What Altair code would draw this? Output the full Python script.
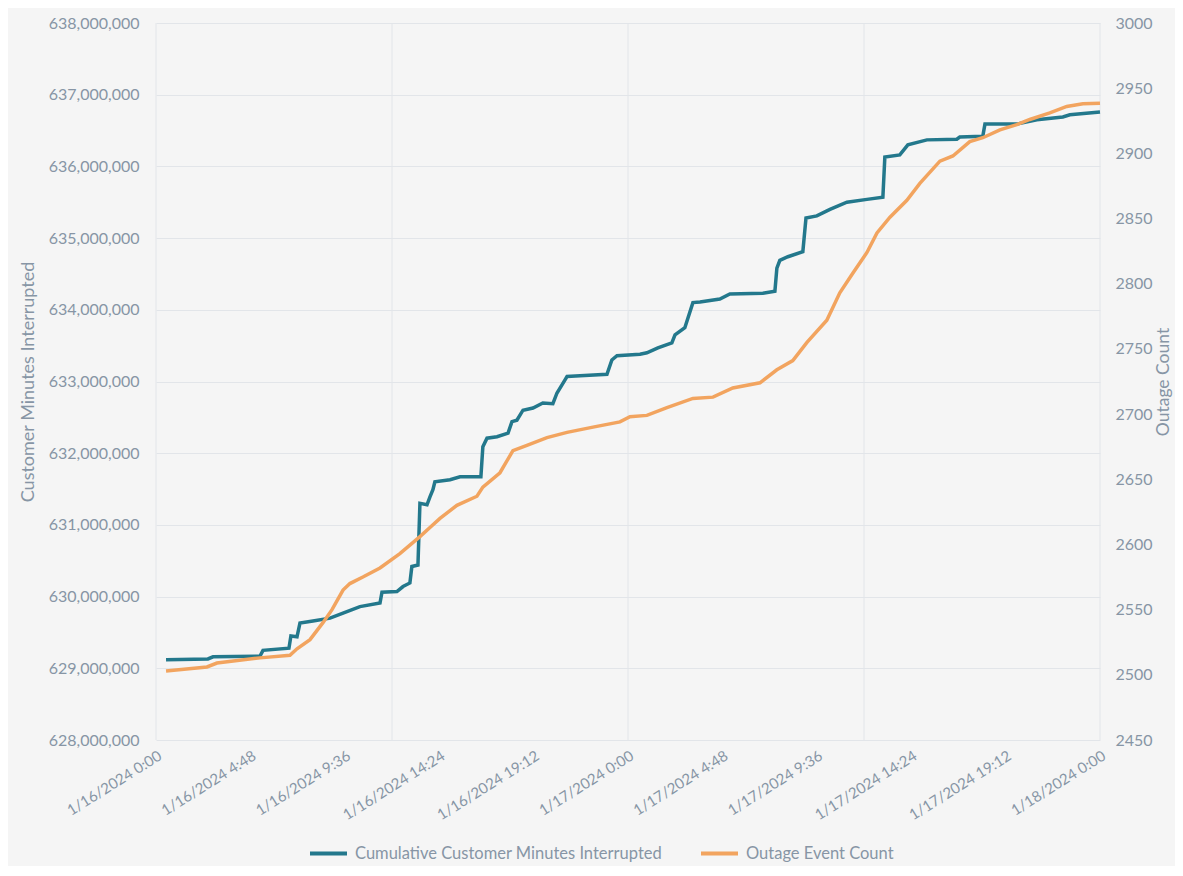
import altair as alt
import pandas as pd

# ---- data (hours since 1/16/2024 0:00) ----
cmi_hours = [0.51, 2.64, 2.90, 5.29, 5.44, 6.76, 6.86, 7.17, 7.32, 7.98, 8.85, 9.51,
             10.37, 11.39, 11.49, 12.25, 12.56, 12.91, 13.01, 13.32, 13.42, 13.78,
             13.93, 14.08, 14.18, 14.95, 15.46, 16.52, 16.62, 16.83, 17.34, 17.90,
             18.10, 18.35, 18.66, 19.17, 19.67, 20.18, 20.39, 20.79, 20.90, 21.56,
             22.93, 23.18, 23.44, 24.61, 24.96, 25.52, 26.23, 26.39, 26.89, 27.30,
             27.66, 28.67, 29.18, 30.86, 31.47, 31.57, 31.72, 32.13, 32.89, 33.05,
             33.60, 34.27, 35.13, 36.15, 36.96, 37.06, 37.82, 38.23, 39.20, 40.72,
             40.87, 42.04, 42.15, 43.77, 44.79, 46.11, 46.47, 48.00]
cmi_values = [629120000, 629130000, 629160000, 629170000, 629250000, 629280000,
              629450000, 629440000, 629630000, 629660000, 629700000, 629770000,
              629860000, 629910000, 630060000, 630070000, 630140000, 630190000,
              630420000, 630440000, 631300000, 631280000, 631390000, 631490000,
              631600000, 631630000, 631670000, 631670000, 632090000, 632210000,
              632230000, 632280000, 632440000, 632460000, 632600000, 632630000,
              632700000, 632690000, 632840000, 633020000, 633070000, 633080000,
              633100000, 633300000, 633360000, 633380000, 633400000, 633470000,
              633540000, 633650000, 633750000, 634100000, 634110000, 634150000,
              634220000, 634230000, 634260000, 634580000, 634690000, 634740000,
              634810000, 635280000, 635310000, 635400000, 635500000, 635540000,
              635570000, 636130000, 636160000, 636300000, 636370000, 636380000,
              636410000, 636420000, 636590000, 636590000, 636650000, 636690000,
              636720000, 636760000]

count_hours = [0.51, 2.59, 3.10, 5.29, 6.81, 7.17, 7.83, 8.49, 8.95, 9.51, 9.86,
               10.52, 11.39, 12.40, 13.42, 13.93, 14.44, 15.30, 16.32, 16.62, 17.49,
               18.15, 18.86, 19.88, 20.90, 22.22, 23.59, 24.10, 24.96, 25.98, 27.30,
               28.32, 29.33, 30.71, 31.57, 32.38, 33.10, 34.11, 34.77, 35.43, 36.15,
               36.66, 37.32, 38.18, 38.84, 39.86, 40.52, 41.38, 42.04, 42.91, 43.77,
               44.43, 45.45, 46.31, 47.13, 48.00]
count_values = [2503, 2506, 2509, 2513, 2515, 2520, 2527, 2540, 2550, 2565, 2570,
                2575, 2582, 2593, 2606, 2613, 2620, 2630, 2637, 2644, 2655,
                2672, 2676, 2682, 2686, 2690, 2694, 2698, 2699, 2705, 2712,
                2713, 2720, 2724, 2734, 2741, 2755, 2772, 2793, 2808, 2824,
                2839, 2851, 2864, 2877, 2894, 2898, 2909, 2912, 2918, 2922,
                2926, 2931, 2936, 2938, 2938.5]

series_names = ["Cumulative Customer Minutes Interrupted", "Outage Event Count"]
series_colors = ["#23788c", "#f2a45f"]

x_tick_hours = [0, 4.8, 9.6, 14.4, 19.2, 24, 28.8, 33.6, 38.4, 43.2, 48]
x_grid_hours = [0, 12, 24, 36, 48]
left_ticks = [628000000, 629000000, 630000000, 631000000, 632000000, 633000000,
              634000000, 635000000, 636000000, 637000000, 638000000]
right_ticks = [2450, 2500, 2550, 2600, 2650, 2700, 2750, 2800, 2850, 2900, 2950, 3000]

cmi_df = pd.DataFrame({"hour": cmi_hours, "value": cmi_values, "series": series_names[0]})
cnt_df = pd.DataFrame({"hour": count_hours, "value": count_values, "series": series_names[1]})
grid_df = pd.DataFrame({"hour": x_grid_hours})

FONT = "Lato"
TEXT = "#8795a5"
GRID = "#e2e5e9"

label_expr = (
    "'1/' + (16 + floor(datum.value / 24)) + '/2024 ' + floor(datum.value % 24 + 1e-6) + ':' + "
    "(round((datum.value % 1) * 60) < 10 ? '0' : '') + round((datum.value % 1) * 60)"
)

x_enc = alt.X(
    "hour:Q",
    scale=alt.Scale(domain=[0, 48], nice=False, zero=False),
    axis=alt.Axis(values=x_tick_hours, labelExpr=label_expr, labelAngle=-32,
                  grid=False, ticks=False, domain=False, labelPadding=8,
                  title=None, labelFontSize=15, labelFont=FONT, labelColor=TEXT,
                  labelOverlap=False),
    title=None,
)

color_enc = alt.Color(
    "series:N",
    scale=alt.Scale(domain=series_names, range=series_colors),
    legend=alt.Legend(orient="none", legendX=152, legendY=810, direction="horizontal",
                      title=None, symbolType="stroke", symbolStrokeWidth=4,
                      symbolSize=1369, labelFontSize=16.5, labelFont=FONT,
                      labelColor=TEXT, columnPadding=30, labelOffset=6, padding=0,
                      labelLimit=400),
)

grid_layer = alt.Chart(grid_df).mark_rule(color=GRID, strokeWidth=1).encode(x=x_enc)

cmi_layer = alt.Chart(cmi_df).mark_line(strokeWidth=3.5, interpolate="linear").encode(
    x=x_enc,
    y=alt.Y("value:Q",
            scale=alt.Scale(domain=[628000000, 638000000], nice=False, zero=False),
            axis=alt.Axis(values=left_ticks, format=",.0f", grid=True, gridColor=GRID,
                          ticks=False, domain=False, labelPadding=17,
                          title="Customer Minutes Interrupted", titleFontSize=18,
                          titleFont=FONT, titleColor=TEXT, titleFontWeight="normal",
                          titlePadding=11, labelFontSize=16, labelFont=FONT,
                          labelColor=TEXT)),
    color=color_enc,
)

cnt_layer = alt.Chart(cnt_df).mark_line(strokeWidth=3.5, interpolate="linear").encode(
    x=x_enc,
    y=alt.Y("value:Q",
            scale=alt.Scale(domain=[2450, 3000], nice=False, zero=False),
            axis=alt.Axis(values=right_ticks, format="d", orient="right", grid=False,
                          ticks=False, domain=False, labelPadding=15,
                          title="Outage Count", titleFontSize=17.5, titleAngle=270,
                          titleFont=FONT, titleColor=TEXT, titleFontWeight="normal",
                          titlePadding=20, labelFontSize=16, labelFont=FONT,
                          labelColor=TEXT)),
    color=color_enc,
)

chart = (
    alt.layer(grid_layer, cmi_layer, cnt_layer)
    .resolve_scale(y="independent")
    .properties(
        width=944,
        height=717,
        autosize=alt.AutoSizeParams(type="none"),
        padding={"left": 148, "top": 15, "right": 75, "bottom": 126},
        background="#f5f5f5",
    )
    .configure_view(stroke=None)
)

chart.save("out.html", embed_options={"renderer": "svg", "actions": False})
